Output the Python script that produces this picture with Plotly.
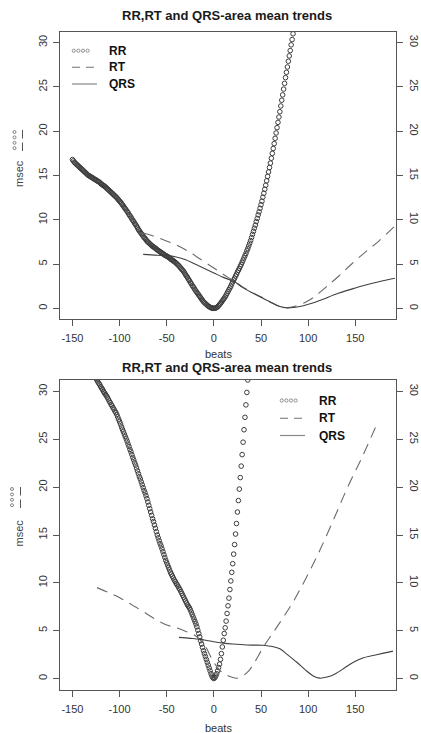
import plotly.graph_objects as go

# ---------------------------------------------------------------------------
# Data: mean trends around beat 0 (values in msec)
# ---------------------------------------------------------------------------

# Upper panel -- RR, one value per beat from -150 to 86
rr_top_beats = list(range(-150, 87))
rr_top = [
    16.8, 16.65, 16.5, 16.4, 16.3, 16.2, 16.1, 16.0, 15.9, 15.8, 15.7,
    15.6, 15.5, 15.4, 15.3, 15.2, 15.1, 15.0, 14.95, 14.9, 14.8,
    14.75, 14.7, 14.6, 14.55, 14.5, 14.4, 14.35, 14.3, 14.2, 14.1,
    14.0, 13.95, 13.85, 13.8, 13.7, 13.6, 13.5, 13.4, 13.3, 13.2,
    13.1, 13.0, 12.9, 12.8, 12.7, 12.6, 12.5, 12.35, 12.25, 12.1,
    12.0, 11.85, 11.7, 11.55, 11.4, 11.25, 11.1, 10.95, 10.8, 10.6,
    10.45, 10.3, 10.1, 9.95, 9.8, 9.6, 9.45, 9.3, 9.1, 8.9,
    8.75, 8.6, 8.45, 8.3, 8.15, 8.0, 7.9, 7.75, 7.6, 7.5,
    7.4, 7.3, 7.2, 7.1, 7.0, 6.95, 6.85, 6.8, 6.7, 6.6,
    6.55, 6.45, 6.4, 6.3, 6.25, 6.15, 6.1, 6.0, 5.95, 5.9,
    5.85, 5.75, 5.7, 5.6, 5.5, 5.45, 5.35, 5.3, 5.2, 5.1,
    5.0, 4.9, 4.8, 4.65, 4.55, 4.4, 4.3, 4.15, 4.0, 3.8,
    3.65, 3.5, 3.3, 3.15, 2.95, 2.8, 2.6, 2.45, 2.3, 2.1,
    1.95, 1.8, 1.65, 1.5, 1.35, 1.2, 1.05, 0.9, 0.75, 0.65,
    0.55, 0.45, 0.35, 0.25, 0.2, 0.12, 0.07, 0.03, 0.01, 0.0,
    0.01, 0.04, 0.1, 0.18, 0.3, 0.42, 0.55, 0.7, 0.85, 1.0,
    1.15, 1.3, 1.5, 1.7, 1.9, 2.1, 2.3, 2.5, 2.75, 3.0,
    3.2, 3.4, 3.65, 3.85, 4.1, 4.3, 4.5, 4.75, 4.95, 5.2,
    5.45, 5.7, 5.95, 6.2, 6.5, 6.75, 7.05, 7.35, 7.65, 8.0,
    8.35, 8.7, 9.05, 9.4, 9.8, 10.15, 10.55, 10.9, 11.3, 11.7,
    12.1, 12.55, 13.0, 13.45, 13.9, 14.4, 14.9, 15.4, 15.9, 16.4,
    16.95, 17.5, 18.05, 18.6, 19.2, 19.8, 20.4, 21.0, 21.6, 22.2,
    22.85, 23.5, 24.1, 24.75, 25.4, 26.05, 26.65, 27.25, 27.9, 28.5,
    29.1, 29.75, 30.35, 31.0, 31.6, 32.2,
]

# Upper panel -- RT and QRS-area trends
rt_top_beats = [-75, -65, -55, -45, -35, -25, -15, -5, 5, 15, 22, 30, 40, 50,
                60, 70, 78, 86, 100, 111, 120, 132, 145, 160, 175, 192]
rt_top = [8.5, 8.2, 7.8, 7.4, 6.9, 6.3, 5.6, 4.9, 4.2, 3.5, 3.05, 2.45, 1.85,
          1.3, 0.72, 0.22, 0.08, 0.25, 0.85, 1.7, 2.5, 3.6, 4.9, 6.3, 7.6, 9.3]

qrs_top_beats = [-75, -60, -50, -40, -30, -20, -10, 0, 10, 22, 30, 40, 50, 60,
                 70, 78, 85, 95, 104, 115, 132, 150, 160, 175, 192]
qrs_top = [6.1, 6.0, 5.95, 5.8, 5.5, 5.0, 4.5, 4.0, 3.5, 3.0, 2.4, 1.8, 1.25,
           0.7, 0.2, 0.05, 0.1, 0.3, 0.57, 1.0, 1.7, 2.3, 2.6, 3.0, 3.4]

# Lower panel -- RR, one value per beat from -127 to 37
rr_bot_beats = list(range(-127, 38))
rr_bot = [
    31.7, 31.5, 31.35, 31.2, 31.0, 30.85, 30.7, 30.5, 30.35, 30.2,
    30.0, 29.85, 29.7, 29.55, 29.4,
    29.2, 29.0, 28.85, 28.65, 28.5, 28.3, 28.15, 27.95, 27.8, 27.6,
    27.35, 27.1, 26.85, 26.6, 26.3, 26.05, 25.8, 25.55, 25.3, 25.05, 24.8,
    24.5, 24.25, 23.95, 23.7, 23.4, 23.1, 22.85, 22.55, 22.3, 22.0,
    21.7, 21.4, 21.1, 20.85, 20.55, 20.25, 19.95, 19.65, 19.4, 19.1, 18.8,
    18.45, 18.1, 17.75, 17.4, 17.05, 16.7, 16.4, 16.05, 15.7, 15.35, 15.0,
    14.7, 14.4, 14.1, 13.85, 13.55, 13.25, 12.95, 12.65, 12.35, 12.1,
    11.85, 11.6, 11.35, 11.1,
    10.9, 10.7, 10.5, 10.3, 10.15, 9.95, 9.8, 9.65, 9.45, 9.3,
    9.1, 8.9, 8.7, 8.5, 8.3, 8.1, 7.9, 7.7, 7.55, 7.4, 7.2,
    6.95, 6.7, 6.45, 6.2, 5.95, 5.7, 5.4,
    5.05, 4.7, 4.35, 3.95, 3.6,
    3.25, 2.9, 2.6, 2.3, 2.0, 1.7,
    1.4, 1.1, 0.8, 0.5, 0.25, 0.08, 0.0,
    0.1, 0.25, 0.5, 0.8, 1.15, 1.5, 2.0, 2.6, 3.3, 4.0,
    4.7, 5.3, 6.0, 6.8, 7.6, 8.4, 9.3, 10.2, 11.1, 12.0,
    13.0, 14.0, 15.1, 16.2, 17.4, 18.6, 19.8, 21.0, 22.2, 23.4,
    24.7, 26.0, 27.3, 28.6, 29.9, 31.2, 32.5,
]

# Lower panel -- RT and QRS-area trends
rt_bot_beats = [-124, -110, -99, -87, -75, -62, -50, -40, -29, -20, -14, -8,
                -4, 0, 5, 10, 17, 24, 31, 37, 42, 52, 60, 67, 75, 84, 93, 102,
                110, 118, 130, 141, 158, 173]
rt_bot = [9.5, 8.9, 8.4, 7.7, 7.0, 6.2, 5.6, 5.3, 4.9, 4.5, 4.0, 3.2, 2.4,
          1.7, 1.0, 0.55, 0.2, 0.03, 0.3, 0.8, 1.5, 3.2, 4.4, 5.4, 6.6, 8.0,
          9.6, 11.3, 12.9, 14.6, 17.3, 19.8, 23.3, 26.6]

qrs_bot_beats = [-37, -25, -15, 0, 10, 20, 35, 52, 60, 70, 78, 88, 97, 105,
                 112, 120, 128, 140, 148, 158, 169, 180, 190]
qrs_bot = [4.3, 4.2, 4.1, 3.85, 3.7, 3.6, 3.5, 3.48, 3.38, 3.1, 2.5, 1.7, 0.9,
           0.3, 0.04, 0.15, 0.45, 1.2, 1.7, 2.15, 2.4, 2.65, 2.86]

assert len(rr_top) == len(rr_top_beats)
assert len(rr_bot) == len(rr_bot_beats)

x_ticks = [-150, -100, -50, 0, 50, 100, 150]
x_tick_text = ["-150", "-100", "-50", "0", "50", "100", "150"]
y_ticks = [0, 5, 10, 15, 20, 25, 30]
y_tick_text = ["0", "5", "10", "15", "20", "25", "30"]

title_text = "RR,RT and QRS-area mean trends"
series_names = ["RR", "RT", "QRS"]

# ---------------------------------------------------------------------------
# Styling and page geometry (pixels)
# ---------------------------------------------------------------------------
W, H = 421, 733
ML, MR, MT, MB = 60, 25, 32, 43
FONT = "Liberation Sans, Arial, sans-serif"
C_RR = "#3c3c3c"
C_RT = "#6a6a6a"
C_QRS = "#404040"
C_AX = "#555555"
C_TXT = "#333333"
DASH = "11px,7px"

PW = W - ML - MR
PH = H - MT - MB


def px_x(p):
    return (p - ML) / PW


def px_y(p):
    return (H - MB - p) / PH


top_dom = [px_y(319), 1.0]
bot_dom = [0.0, px_y(380)]

fig = go.Figure()


def add_panel(xa, ya, ya_right, rr_x, rr_y, rt_x, rt_y, q_x, q_y):
    fig.add_trace(go.Scatter(
        x=rr_x, y=rr_y, mode="markers", xaxis=xa, yaxis=ya,
        marker=dict(symbol="circle-open", size=4.6, color=C_RR,
                    line=dict(width=1, color=C_RR)),
        showlegend=False, hoverinfo="skip"))
    fig.add_trace(go.Scatter(
        x=rt_x, y=rt_y, mode="lines", xaxis=xa, yaxis=ya,
        line=dict(color=C_RT, width=1.1, dash=DASH, shape="spline",
                  smoothing=1.0),
        showlegend=False, hoverinfo="skip"))
    fig.add_trace(go.Scatter(
        x=q_x, y=q_y, mode="lines", xaxis=xa, yaxis=ya,
        line=dict(color=C_QRS, width=1.1, shape="spline", smoothing=1.0),
        showlegend=False, hoverinfo="skip"))
    # empty trace so the right-hand axis gets its own overlay
    fig.add_trace(go.Scatter(x=[None], y=[None], xaxis=xa, yaxis=ya_right,
                             showlegend=False, hoverinfo="skip"))


add_panel("x", "y", "y3", rr_top_beats, rr_top, rt_top_beats, rt_top,
          qrs_top_beats, qrs_top)
add_panel("x2", "y2", "y4", rr_bot_beats, rr_bot, rt_bot_beats, rt_bot,
          qrs_bot_beats, qrs_bot)

tick_font = dict(family=FONT, size=11, color=C_TXT)
x_common = dict(range=[-163.2, 193.2], tickmode="array", tickvals=x_ticks,
                ticktext=x_tick_text, ticks="outside", ticklen=6,
                tickcolor=C_AX, tickwidth=1, showline=True, linecolor=C_AX,
                linewidth=1, mirror=True, showgrid=False, zeroline=False,
                tickfont=tick_font, domain=[0, 1], ticklabelstandoff=3,
                automargin=False)
y_common = dict(range=[-1.2, 31.2], tickmode="array", tickvals=y_ticks,
                ticktext=y_tick_text, ticks="outside", ticklen=6,
                tickcolor=C_AX, tickwidth=1, showgrid=False, zeroline=False,
                tickfont=tick_font, automargin=False)

fig.update_layout(
    width=W, height=H,
    margin=dict(l=ML, r=MR, t=MT, b=MB, pad=0, autoexpand=False),
    paper_bgcolor="white", plot_bgcolor="white",
    font=dict(family=FONT, color=C_TXT),
    showlegend=False,
    xaxis=dict(**x_common, anchor="y"),
    xaxis2=dict(**x_common, anchor="y2"),
    yaxis=dict(**y_common, domain=top_dom, anchor="x", tickangle=-90,
               showline=True, linecolor=C_AX, linewidth=1, mirror=True,
               ticklabelstandoff=2),
    yaxis2=dict(**y_common, domain=bot_dom, anchor="x2", tickangle=-90,
                showline=True, linecolor=C_AX, linewidth=1, mirror=True,
                ticklabelstandoff=2),
    yaxis3=dict(**y_common, overlaying="y", side="right", anchor="x",
                tickangle=90, showline=False, ticklabelstandoff=3),
    yaxis4=dict(**y_common, overlaying="y2", side="right", anchor="x2",
                tickangle=90, showline=False, ticklabelstandoff=3),
)

annotations = []
shapes = []


def text(xp, yp, s, size=11, bold=False, angle=0, xanchor="center",
         color=C_TXT):
    annotations.append(dict(
        x=px_x(xp), y=px_y(yp), xref="paper", yref="paper", showarrow=False,
        text=f"<b>{s}</b>" if bold else s, textangle=angle,
        xanchor=xanchor, yanchor="middle",
        font=dict(family=FONT, size=size, color=color)))


def seg(x0, y0, x1, y1, color, width=1.0, dash=None):
    line = dict(color=color, width=width)
    if dash:
        line["dash"] = dash
    shapes.append(dict(type="line", xref="paper", yref="paper",
                       x0=px_x(x0), y0=px_y(y0), x1=px_x(x1), y1=px_y(y1),
                       line=line))


def ring(cx, cy, r, color):
    shapes.append(dict(type="circle", xref="paper", yref="paper",
                       x0=px_x(cx - r), x1=px_x(cx + r),
                       y0=px_y(cy + r), y1=px_y(cy - r),
                       line=dict(color=color, width=0.8)))


def legend(x0, y_rows, text_x):
    for k in range(4):
        ring(x0 + 1.8 + k * 4.6, y_rows[0], 1.6, "#777777")
    seg(x0, y_rows[1], x0 + 8, y_rows[1], "#888888", 1.2)
    seg(x0 + 14, y_rows[1], x0 + 22, y_rows[1], "#888888", 1.2)
    seg(x0, y_rows[2], x0 + 25, y_rows[2], "#888888", 1.2)
    for name, yy in zip(series_names, y_rows):
        text(text_x, yy, name, size=12, bold=True, xanchor="left",
             color="#111111")


def y_label(cx, cy, ring_x, dash_x, top):
    text(cx, cy, "msec", size=11, angle=-90, color="#444444")
    for k in range(4):
        ring(ring_x, top + 2 + k * 5.4, 1.5, "#666666")
    seg(dash_x, top, dash_x, top + 8.5, "#555555", 1.0)
    seg(dash_x, top + 12.5, dash_x, top + 21, "#555555", 1.0)


# upper panel decorations
text(227, 15.5, title_text, size=13, bold=True, color="#1a1a1a")
text(218, 353.5, "beats", size=11, color=C_TXT)
legend(72, [50.7, 67.3, 84.0], 106.5)
y_label(19, 174, 14.5, 22.5, 130)

# lower panel decorations
text(227, 367.5, title_text, size=13, bold=True, color="#1a1a1a")
text(218.5, 728, "beats", size=11, color=C_TXT)
legend(280, [400.5, 418.3, 435.5], 316.5)
y_label(18.5, 533, 12, 20.5, 487)

fig.update_layout(annotations=annotations, shapes=shapes)

fig.write_html("out.html")
